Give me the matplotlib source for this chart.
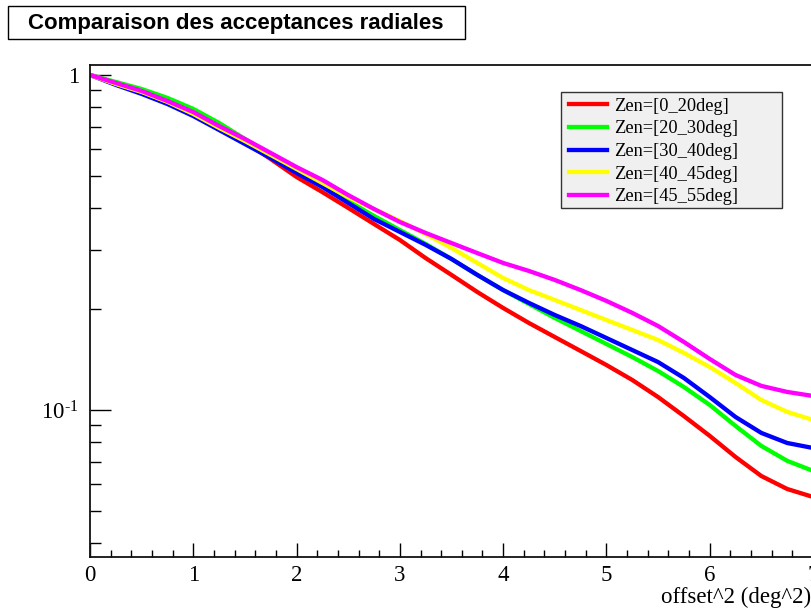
import numpy as np
import matplotlib
matplotlib.use("Agg")
import matplotlib.pyplot as plt
from matplotlib.patches import Rectangle

serif = "Liberation Serif"
plt.rcParams["mathtext.fontset"] = "custom"
plt.rcParams["mathtext.rm"] = serif

# offset^2 (deg^2)
offset2 = [0.0, 0.25, 0.5, 0.75, 1.0, 1.25, 1.5, 1.75, 2.0, 2.25, 2.5, 2.75, 3.0, 3.25, 3.5,
           3.75, 4.0, 4.25, 4.5, 4.75, 5.0, 5.25, 5.5, 5.75, 6.0, 6.25, 6.5, 6.75, 7.0]

# acceptances radiales normalisees, une serie par bande de zenith
acc_0_20 = [1.0, 0.9465, 0.899, 0.842, 0.781, 0.704, 0.631, 0.561, 0.496, 0.447, 0.401, 0.359, 0.3217, 0.284, 0.253,
            0.225, 0.2016, 0.1818, 0.1651, 0.150, 0.1362, 0.1229, 0.1093, 0.0959, 0.0837, 0.0724, 0.0635, 0.0581, 0.0550]
acc_20_30 = [1.0, 0.953, 0.908, 0.854, 0.792, 0.719, 0.644, 0.577, 0.513, 0.466, 0.4205, 0.3795, 0.3445, 0.313, 0.2823,
             0.253, 0.228, 0.2072, 0.1882, 0.1721, 0.1574, 0.1439, 0.1307, 0.1171, 0.1035, 0.0896, 0.0781, 0.0705, 0.0658]
acc_30_40 = [1.0, 0.934, 0.878, 0.819, 0.754, 0.685, 0.622, 0.565, 0.510, 0.463, 0.415, 0.3716, 0.340, 0.311, 0.2823,
             0.253, 0.228, 0.2087, 0.1921, 0.1781, 0.164, 0.151, 0.139, 0.1246, 0.1093, 0.0953, 0.0854, 0.0797, 0.0770]
acc_40_45 = [1.0, 0.940, 0.890, 0.831, 0.765, 0.695, 0.635, 0.577, 0.524, 0.476, 0.432, 0.398, 0.3665, 0.3352, 0.3045,
             0.2747, 0.2477, 0.228, 0.213, 0.1988, 0.1856, 0.1733, 0.1618, 0.148, 0.1344, 0.1204, 0.1071, 0.0987, 0.0934]
acc_45_55 = [1.0, 0.9465, 0.896, 0.836, 0.775, 0.704, 0.644, 0.585, 0.531, 0.486, 0.438, 0.398, 0.364, 0.3376, 0.315,
             0.294, 0.2747, 0.260, 0.2444, 0.228, 0.2116, 0.1949, 0.1781, 0.1596, 0.142, 0.1272, 0.118, 0.1132, 0.1101]

labels = ["Zen=[0_20deg]", "Zen=[20_30deg]", "Zen=[30_40deg]", "Zen=[40_45deg]", "Zen=[45_55deg]"]
colors = ["#ff0000", "#00ff00", "#0000ff", "#ffff00", "#ff00ff"]

W, H = 811, 609
fig = plt.figure(figsize=(W / 100, H / 100), dpi=100)
ax = fig.add_axes([90 / W, (H - 557) / H, 723 / W, (557 - 65) / H])

series = [acc_0_20, acc_20_30, acc_30_40, acc_40_45, acc_45_55]
for s, lab, c in zip(series, labels, colors):
    ax.plot(offset2, s, color=c, lw=3.1, label=lab, solid_joinstyle="round")

ax.set_yscale("log")
ax.set_xlim(0, 7)
ax.set_ylim(0.0364, 1.071)

ax.set_xticks(range(0, 8))
ax.set_xticklabels([str(i) for i in range(0, 8)], fontfamily=serif, fontsize=16.5)
ax.set_xticks(np.arange(0, 7.01, 0.2), minor=True)
ax.set_yticks([0.1, 1])
ax.set_yticklabels(["$\\mathregular{10^{\\text{-}1}}$", "1"], fontfamily=serif, fontsize=16.5)
ax.set_yticks([0.04, 0.05, 0.06, 0.07, 0.08, 0.09, 0.2, 0.3, 0.4, 0.5, 0.6, 0.7, 0.8, 0.9], minor=True)
ax.yaxis.set_minor_formatter(matplotlib.ticker.NullFormatter())

ax.tick_params(axis="x", which="major", direction="in", length=10, width=1, pad=6, top=False)
ax.tick_params(axis="x", which="minor", direction="in", length=5, width=1, top=False)
ax.tick_params(axis="y", which="major", direction="in", length=15, width=1, pad=8, right=False)
ax.tick_params(axis="y", which="minor", direction="in", length=8, width=1, right=False)
for sp in ["left", "bottom", "top"]:
    ax.spines[sp].set_linewidth(1.3)
    ax.spines[sp].set_color("#111111")
ax.spines["right"].set_visible(False)

fig.text(811 / W, 1 - 597 / H, "offset^2 (deg^2)", ha="right", va="center",
         fontfamily=serif, fontsize=16.5)

# cadre du titre
fig.patches.append(Rectangle((8 / W, 1 - 39 / H), 457 / W, 33 / H, transform=fig.transFigure,
                             facecolor="white", edgecolor="black", lw=1))
fig.text(236 / W, 1 - 23 / H, "Comparaison des acceptances radiales", ha="center", va="center",
         fontfamily="Liberation Sans", fontweight="bold", fontsize=16)

# legende
ax.add_patch(Rectangle((561 / W, 1 - 208 / H), 221 / W, 116 / H, transform=fig.transFigure,
                       facecolor="#f0f0f0", edgecolor="#333333", lw=1, zorder=5, clip_on=False))
leg = ax.legend(loc="upper left", bbox_to_anchor=(565 / W, 1 - 94 / H), bbox_transform=fig.transFigure,
                frameon=False, prop={"family": serif, "size": 13.2}, handlelength=2.1,
                handletextpad=0.37, labelspacing=0.31, borderpad=0.2, borderaxespad=0)
leg.set_zorder(6)

fig.savefig("out.png", dpi=100)
